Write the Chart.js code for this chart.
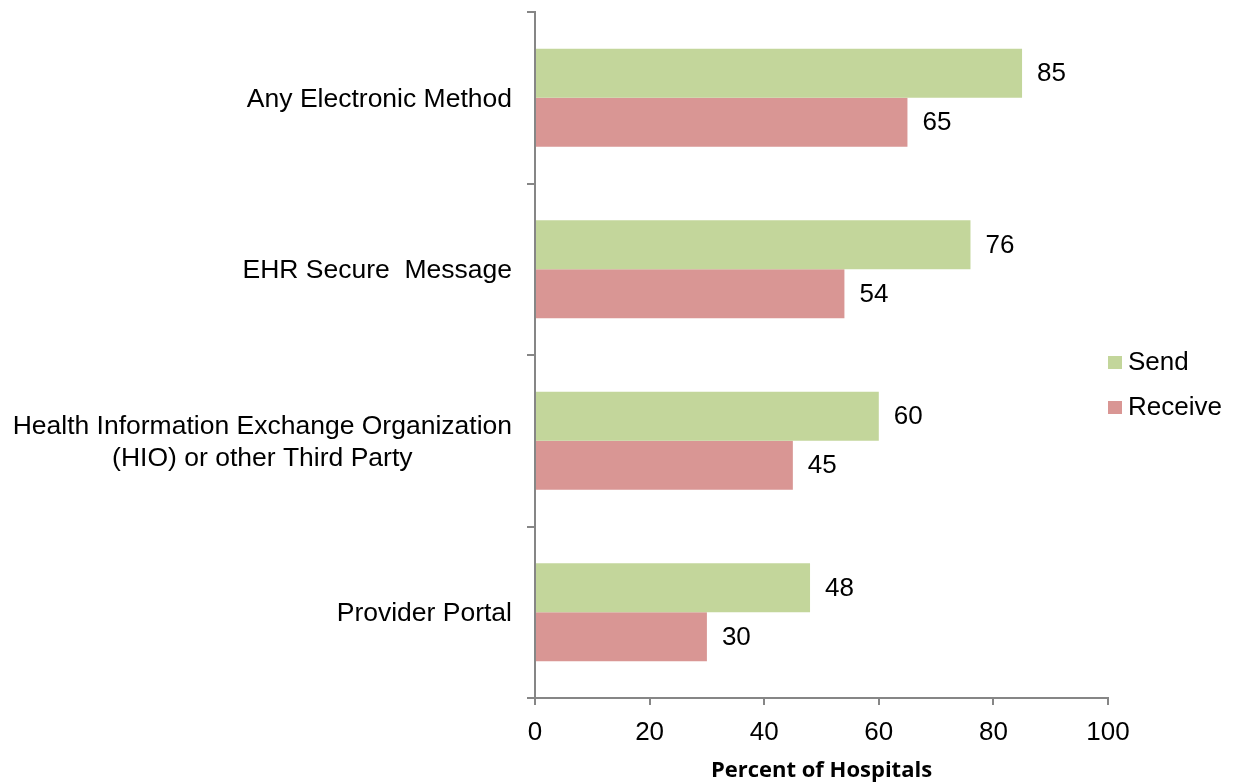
<!DOCTYPE html>
<html>
<head>
<meta charset="utf-8">
<script src="https://cdn.jsdelivr.net/npm/chart.js@4"></script>
<style>
  html, body { margin: 0; padding: 0; background: #fff; }
  #wrap { width: 1233px; height: 782px; }
</style>
</head>
<body>
<div id="wrap"><canvas id="chart"></canvas></div>
<script>
// Horizontal grouped bars: hospitals that send / receive summary of care
// records electronically, by method.

const categories = [
  "Any Electronic Method",
  "EHR Secure  Message",
  ["Health Information Exchange Organization", "(HIO) or other Third Party"],
  "Provider Portal",
];
const sendValues = [85, 76, 60, 48];
const receiveValues = [65, 54, 45, 30];
const xTicks = [0, 20, 40, 60, 80, 100];
const seriesNames = ["Send", "Receive"];

const FONT = '"Liberation Sans", Arial, sans-serif';
const GREY = "#868686";
const GREEN = "#C3D69B";
const RED = "#D99694";

// Category labels: single lines right-aligned, wrapped label centred on its widest line.
const categoryLabels = {
  id: "categoryLabels",
  afterDraw(chart) {
    const { ctx } = chart;
    const y = chart.scales.y;
    const right = y.right - 23;
    ctx.save();
    ctx.font = `26.5px ${FONT}`;
    ctx.fillStyle = "#000";
    ctx.textBaseline = "middle";
    ctx.textAlign = "center";
    categories.forEach((label, i) => {
      const lines = Array.isArray(label) ? label : [label];
      const widest = Math.max(...lines.map((l) => ctx.measureText(l).width));
      const cy = y.getPixelForTick(i) + 1.5;
      lines.forEach((line, j) => {
        ctx.fillText(line, right - widest / 2, cy + (j - (lines.length - 1) / 2) * 32);
      });
    });
    ctx.restore();
  },
};

// Value labels just past the end of each bar.
const valueLabels = {
  id: "valueLabels",
  afterDatasetsDraw(chart) {
    const { ctx } = chart;
    ctx.save();
    ctx.font = `26px ${FONT}`;
    ctx.fillStyle = "#000";
    ctx.textBaseline = "middle";
    ctx.textAlign = "left";
    chart.data.datasets.forEach((ds, di) => {
      chart.getDatasetMeta(di).data.forEach((bar, i) => {
        ctx.fillText(String(ds.data[i]), bar.x + 15, bar.y + 1);
      });
    });
    ctx.restore();
  },
};

// Legend to the right of the plot, square swatch + name.
const sideLegend = {
  id: "sideLegend",
  afterDraw(chart) {
    const { ctx, chartArea } = chart;
    const x = chartArea.right;
    const mid = (chartArea.top + chartArea.bottom) / 2 + 30;
    ctx.save();
    ctx.font = `26px ${FONT}`;
    ctx.textBaseline = "middle";
    ctx.textAlign = "left";
    chart.data.datasets.forEach((ds, i) => {
      const cy = mid + (i - 0.5) * 45;
      ctx.fillStyle = ds.backgroundColor;
      ctx.fillRect(x, cy - 6.5, 14, 13);
      ctx.fillStyle = "#000";
      ctx.fillText(ds.label, x + 20, cy);
    });
    ctx.restore();
  },
};

new Chart(document.getElementById("chart"), {
  type: "bar",
  data: {
    labels: categories,
    datasets: [
      { label: seriesNames[0], data: sendValues, backgroundColor: GREEN },
      { label: seriesNames[1], data: receiveValues, backgroundColor: RED },
    ],
  },
  options: {
    indexAxis: "y",
    responsive: true,
    maintainAspectRatio: false,
    animation: false,
    datasets: { bar: { categoryPercentage: 0.571, barPercentage: 1, borderWidth: 0 } },
    layout: { padding: { top: 12, right: 125, left: 0, bottom: 0 } },
    plugins: { legend: { display: false }, tooltip: { enabled: false } },
    scales: {
      x: {
        min: 0,
        max: 100,
        afterBuildTicks: (s) => { s.ticks = xTicks.map((v) => ({ value: v })); },
        ticks: { color: "#000", font: { size: 26, family: FONT }, padding: 12 },
        grid: { drawOnChartArea: false, tickLength: 7, color: GREY, lineWidth: 2 },
        border: { color: GREY, width: 2 },
        title: {
          display: true,
          text: "Percent of Hospitals",
          color: "#000",
          font: { size: 22, weight: "bold", family: '"Open Sans", ' + FONT, lineHeight: 1.2 },
          padding: { top: 0, bottom: -2 },
        },
        afterFit: (s) => { s.height = 84; },
      },
      y: {
        grid: { offset: true, drawOnChartArea: false, tickLength: 8, color: GREY, lineWidth: 2 },
        border: { color: GREY, width: 2 },
        ticks: { display: false },
        afterFit: (s) => { s.width = 535; },
      },
    },
  },
  plugins: [categoryLabels, valueLabels, sideLegend],
});
</script>
</body>
</html>
